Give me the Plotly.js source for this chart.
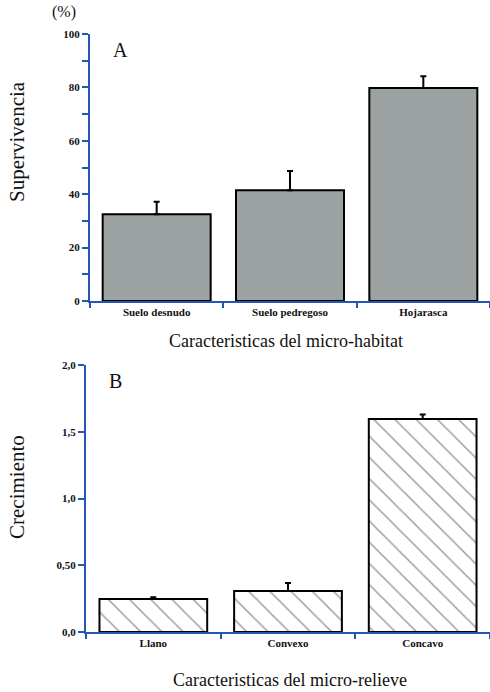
<!DOCTYPE html>
<html>
<head>
<meta charset="utf-8">
<script src="https://cdn.plot.ly/plotly-3.0.1.min.js"></script>
<style>html,body{margin:0;padding:0;background:#fff;}#chart{width:490px;height:692px;}</style>
</head>
<body>
<div id="chart"></div>
<script>
// Panel A
const habitatCats = ["Suelo desnudo", "Suelo pedregoso", "Hojarasca"];
const supervivencia = [32.5, 41.5, 79.8];
const supervivenciaErr = [4.7, 7.2, 4.4];
const yTicksA = [0, 10, 20, 30, 40, 50, 60, 70, 80, 90, 100];
const yTickTextA = ["0", "", "20", "", "40", "", "60", "", "80", "", "100"];

// Panel B
const relieveCats = ["Llano", "Convexo", "Concavo"];
const crecimiento = [0.247, 0.307, 1.596];
const crecimientoErr = [0.013, 0.06, 0.034];
const yTicksB = [0, 0.5, 1.0, 1.5, 2.0];
const yTickTextB = ["0,0", "0,50", "1,0", "1,5", "2,0"];

const blue = "#2456b4";
const serif = "Liberation Serif";
const tickFont = {family: serif, size: 11, color: "#111", weight: "bold"};
const titleFont = {family: serif, size: 18, color: "#111"};
const yTitleFont = {family: serif, size: 21, color: "#111"};

const traces = [
  {
    type: "bar", x: habitatCats, y: supervivencia, xaxis: "x", yaxis: "y",
    width: 0.81,
    marker: {color: "#9ca1a1", line: {color: "#000", width: 2}},
    error_y: {type: "data", symmetric: false, array: supervivenciaErr, arrayminus: [0,0,0],
              color: "#000", thickness: 2, width: 3},
    hoverinfo: "none"
  },
  {
    type: "bar", x: relieveCats, y: crecimiento, xaxis: "x2", yaxis: "y2",
    width: 0.8,
    marker: {color: "#ffffff", line: {color: "#000", width: 2},
             pattern: {shape: "\\", fgcolor: "#9a9e9e", bgcolor: "#ffffff", size: 15, solidity: 0.1}},
    error_y: {type: "data", symmetric: false, array: crecimientoErr, arrayminus: [0,0,0],
              color: "#000", thickness: 2, width: 3},
    hoverinfo: "none"
  }
];

const axisCommon = {
  showline: true, linecolor: blue, linewidth: 2, showgrid: false, zeroline: false,
  tickwidth: 2, tickcolor: blue, tickfont: tickFont, fixedrange: true
};

const layout = {
  width: 490, height: 692,
  margin: {l: 0, r: 0, t: 0, b: 0},
  paper_bgcolor: "#fff", plot_bgcolor: "#fff",
  showlegend: false,
  font: {family: serif},
  xaxis: Object.assign({}, axisCommon, {
    domain: [90/490, 1], anchor: "y", type: "category", range: [-0.5, 2.5],
    ticks: "outside", tickson: "boundaries", ticklen: 5
  }),
  yaxis: Object.assign({}, axisCommon, {
    domain: [1 - 301/692, 1 - 34/692], anchor: "x", range: [0, 100],
    ticks: "outside", ticklen: 6, tickvals: yTicksA, ticktext: yTickTextA
  }),
  xaxis2: Object.assign({}, axisCommon, {
    domain: [86/490, 1], anchor: "y2", type: "category", range: [-0.5, 2.5],
    ticks: "outside", tickson: "boundaries", ticklen: 5
  }),
  yaxis2: Object.assign({}, axisCommon, {
    domain: [1 - 632/692, 1 - 365/692], anchor: "x2", range: [0, 2.0],
    ticks: "outside", ticklen: 6, tickvals: yTicksB, ticktext: yTickTextB
  }),
  annotations: [
    {text: "(%)", xref: "paper", yref: "paper", x: 64/490, y: 1 - 12/692, xanchor: "center", yanchor: "middle",
     showarrow: false, font: {family: serif, size: 16, color: "#111"}},
    {text: "A", xref: "paper", yref: "paper", x: 120/490, y: 1 - 50/692, xanchor: "center", yanchor: "middle",
     showarrow: false, font: {family: serif, size: 20, color: "#111"}},
    {text: "B", xref: "paper", yref: "paper", x: 115/490, y: 1 - 381/692, xanchor: "center", yanchor: "middle",
     showarrow: false, font: {family: serif, size: 20, color: "#111"}},
    {text: "Supervivencia", xref: "paper", yref: "paper", x: 17/490, y: 1 - 142/692, xanchor: "center", yanchor: "middle",
     textangle: -90, showarrow: false, font: yTitleFont},
    {text: "Crecimiento", xref: "paper", yref: "paper", x: 17/490, y: 1 - 487/692, xanchor: "center", yanchor: "middle",
     textangle: -90, showarrow: false, font: yTitleFont},
    {text: "Caracteristicas del micro-habitat", xref: "paper", yref: "paper", x: 286/490, y: 1 - 341/692,
     xanchor: "center", yanchor: "middle", showarrow: false, font: titleFont},
    {text: "Caracteristicas del micro-relieve", xref: "paper", yref: "paper", x: 290/490, y: 1 - 680/692,
     xanchor: "center", yanchor: "middle", showarrow: false, font: titleFont}
  ]
};

Plotly.newPlot("chart", traces, layout, {displayModeBar: false, staticPlot: true});
</script>
</body>
</html>
